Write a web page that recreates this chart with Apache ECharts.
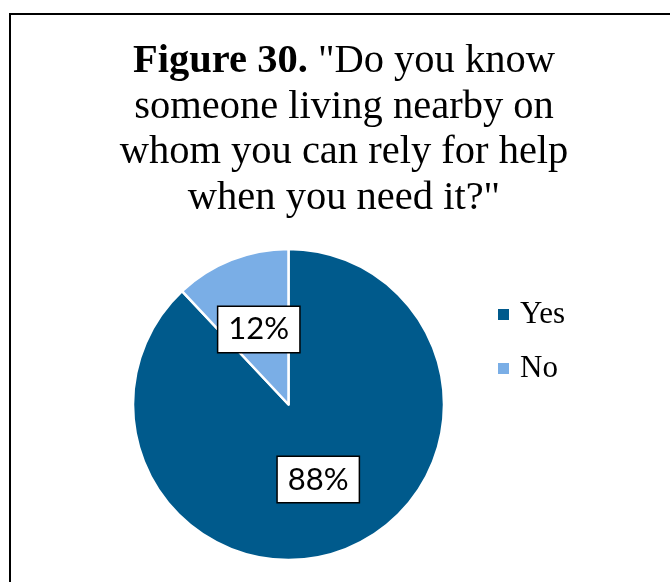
<!DOCTYPE html>
<html>
<head>
<meta charset="utf-8">
<script src="https://cdn.jsdelivr.net/npm/echarts@6/dist/echarts.min.js"></script>
<style>
  html, body { margin: 0; padding: 0; background: #fff; }
  #chart { width: 670px; height: 582px; }
</style>
</head>
<body>
<div id="chart"></div>
<script>
// Survey answers and their shares (%)
const categories = ['Yes', 'No'];
const shares = [88, 12];
const colors = ['#005a8c', '#7aaee6'];

const titleLines = [
  '{b|Figure 30.} "Do you know',
  'someone living nearby on',
  'whom you can rely for help',
  'when you need it?"'
];

const serif = 'Liberation Serif';

const chart = echarts.init(document.getElementById('chart'));

chart.setOption({
  animation: false,
  backgroundColor: '#fff',
  graphic: [{
    type: 'rect',
    shape: { x: 10, y: 14, width: 700, height: 620 },
    style: { fill: 'none', stroke: '#000', lineWidth: 2 },
    silent: true
  }],
  title: {
    text: titleLines.join('\n'),
    left: 339,
    textAlign: 'center',
    top: 34,
    textStyle: {
      fontFamily: serif,
      fontSize: 40.5,
      fontWeight: 'normal',
      color: '#000',
      lineHeight: 45.5,
      rich: {
        b: { fontFamily: serif, fontSize: 40.5, fontWeight: 'bold', color: '#000', lineHeight: 45.5 }
      }
    }
  },
  legend: {
    orient: 'vertical',
    left: 491,
    top: 294,
    itemWidth: 13,
    itemHeight: 13,
    itemGap: 23,
    icon: 'rect',
    textStyle: { fontFamily: serif, fontSize: 31, color: '#000', padding: [0, 0, 0, 5] },
    data: categories
  },
  series: [{
    type: 'pie',
    center: [288.5, 404.5],
    radius: 155.5,
    startAngle: 90,
    clockwise: true,
    avoidLabelOverlap: false,
    itemStyle: { borderColor: '#fff', borderWidth: 2.5 },
    label: {
      show: true,
      position: 'inside',
      formatter: '{c}%',
      fontFamily: 'Lato',
      fontSize: 31,
      color: '#000',
      backgroundColor: '#fff',
      borderColor: '#000',
      borderWidth: 1.5,
      padding: [8, 10, 6, 10]
    },
    labelLine: { show: false },
    emphasis: { disabled: true },
    data: categories.map((name, i) => ({
      name,
      value: shares[i],
      itemStyle: { color: colors[i] }
    }))
  }]
});
</script>
</body>
</html>
